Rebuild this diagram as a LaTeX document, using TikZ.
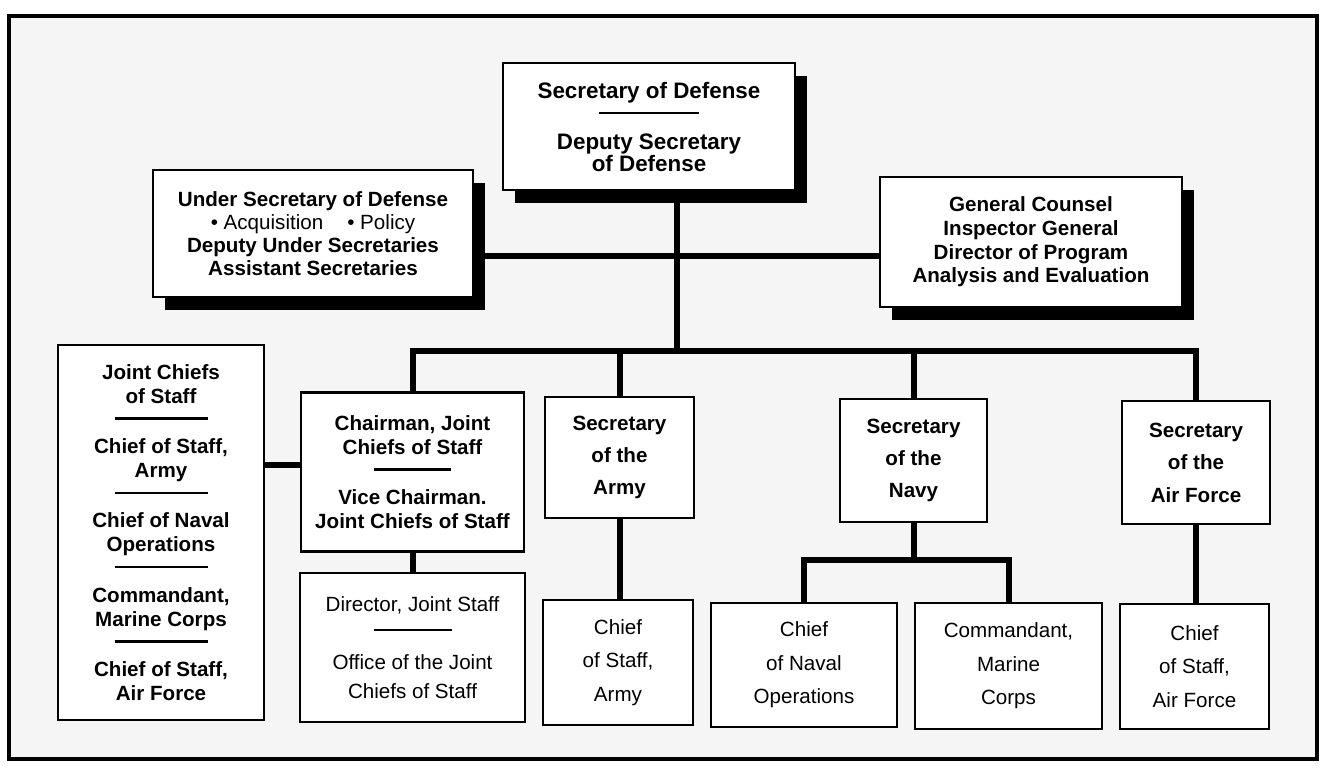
\documentclass[tikz,border=0pt]{standalone}
\usepackage{fontspec}
\setmainfont{Liberation Sans}
\usetikzlibrary{shadows}
\newcommand{\divline}[1]{\rule[3pt]{#1}{1.2pt}}

\begin{document}
\begin{tikzpicture}[x=0.5pt, y=-0.5pt,
    office/.style={draw, line width=1.2pt, fill=white, align=center, inner sep=0pt,
      font=\bfseries\fontsize{10.3}{12}\selectfont},
    tall/.style={office, font=\bfseries\fontsize{10.3}{16.2}\selectfont},
    plainoffice/.style={office, font=\fontsize{10.3}{16.8}\selectfont},
    shadowed/.style={office, drop shadow={shadow xshift=5.75pt, shadow yshift=-6.5pt, fill=black, opacity=1}},
    link/.style={line width=3pt}]
  \useasboundingbox (0,0) rectangle (1320,768);
  \fill[black!4] (9,16) rectangle (1317,759);
  \draw[line width=2pt] (9,16) rectangle (1317,759);

  \node[shadowed, minimum width=146pt, minimum height=63.5pt,
        font=\bfseries\fontsize{11.2}{11}\selectfont] (secdef) at (649,126.5)
    {Secretary of Defense\\[0.1pt]\divline{50pt}\\[3.4pt]Deputy Secretary\\of Defense};
  \node[shadowed, minimum width=160pt, minimum height=63.5pt,
        font=\bfseries\fontsize{10.3}{11.5}\selectfont] (undersec) at (313,233.5)
    {Under Secretary of Defense\\{\mdseries\textbullet\ Acquisition\hspace{12pt}\textbullet\ Policy}\\Deputy Under Secretaries\\Assistant Secretaries};
  \node[shadowed, minimum width=151pt, minimum height=65pt,
        font=\bfseries\fontsize{10.3}{11.8}\selectfont] (gc) at (1031,242)
    {General Counsel\\Inspector General\\Director of Program\\Analysis and Evaluation};

  \node[office, minimum width=103pt, minimum height=187.5pt] (jcs) at (161,532.5)
    {Joint Chiefs\\of Staff\\[-0.7pt]\divline{46.5pt}\\[1.9pt]Chief of Staff,\\Army\\[-0.7pt]\divline{46.5pt}\\[1.9pt]Chief of Naval\\Operations\\[-0.7pt]\divline{46.5pt}\\[1.9pt]Commandant,\\Marine Corps\\[-0.7pt]\divline{46.5pt}\\[1.9pt]Chief of Staff,\\Air Force};
  \node[office, minimum width=111.5pt, minimum height=79.5pt] (chair) at (412.5,472)
    {Chairman, Joint\\Chiefs of Staff\\[-0.75pt]\divline{38.5pt}\\[1.75pt]Vice Chairman.\\Joint Chiefs of Staff};
  \node[plainoffice, minimum width=112.5pt, minimum height=74.5pt,
        font=\fontsize{10.3}{14.2}\selectfont] (director) at (412.5,647.5)
    {Director, Joint Staff\\[-1.3pt]\divline{39pt}\\[2.1pt]Office of the Joint\\Chiefs of Staff};

  \node[tall, minimum width=74.5pt, minimum height=60.5pt] (secarmy) at (619.5,457.5) {Secretary\\of the\\Army};
  \node[tall, minimum width=73.5pt, minimum height=61.5pt] (secnavy) at (913.5,460.5) {Secretary\\of the\\Navy};
  \node[tall, minimum width=74pt, minimum height=61.5pt] (secaf) at (1196,462.5) {Secretary\\of the\\Air Force};

  \node[plainoffice, minimum width=75pt, minimum height=62.5pt] (chiefarmy) at (618,662.5) {Chief\\of Staff,\\Army};
  \node[plainoffice, minimum width=93pt, minimum height=62pt] (cno) at (804,665) {Chief\\of Naval\\Operations};
  \node[plainoffice, minimum width=93.5pt, minimum height=63pt] (cmc) at (1008.5,666) {Commandant,\\Marine\\Corps};
  \node[plainoffice, minimum width=74.5pt, minimum height=62.5pt] (chiefaf) at (1194.5,666.5) {Chief\\of Staff,\\Air Force};

  \coordinate (trunk) at (677,351);
  \coordinate (staff) at (677,256);
  \coordinate (navyfork) at (913.5,560);
  \draw[link] (secdef.south -| trunk) -- (trunk);
  \draw[link] (undersec.east |- staff) -- (gc.west |- staff);
  \draw[link, line join=miter] (chair.north) -- (chair.north |- trunk) -- (secaf.north |- trunk) -- (secaf.north);
  \draw[link] (secarmy.north) -- (secarmy.north |- trunk);
  \draw[link] (secnavy.north) -- (secnavy.north |- trunk);
  \draw[link] ([yshift=3.5pt]chair.west) -- ([yshift=3.5pt]chair.west -| jcs.east);
  \draw[link] (chair.south) -- (director.north);
  \draw[link] (secarmy.south) -- (chiefarmy.north -| secarmy.south);
  \draw[link] (secnavy.south) -- (navyfork);
  \draw[link, line join=miter] (cno.north) |- (navyfork) -| (cmc.north);
  \draw[link] (secaf.south) -- (chiefaf.north -| secaf.south);
\end{tikzpicture}
\end{document}
